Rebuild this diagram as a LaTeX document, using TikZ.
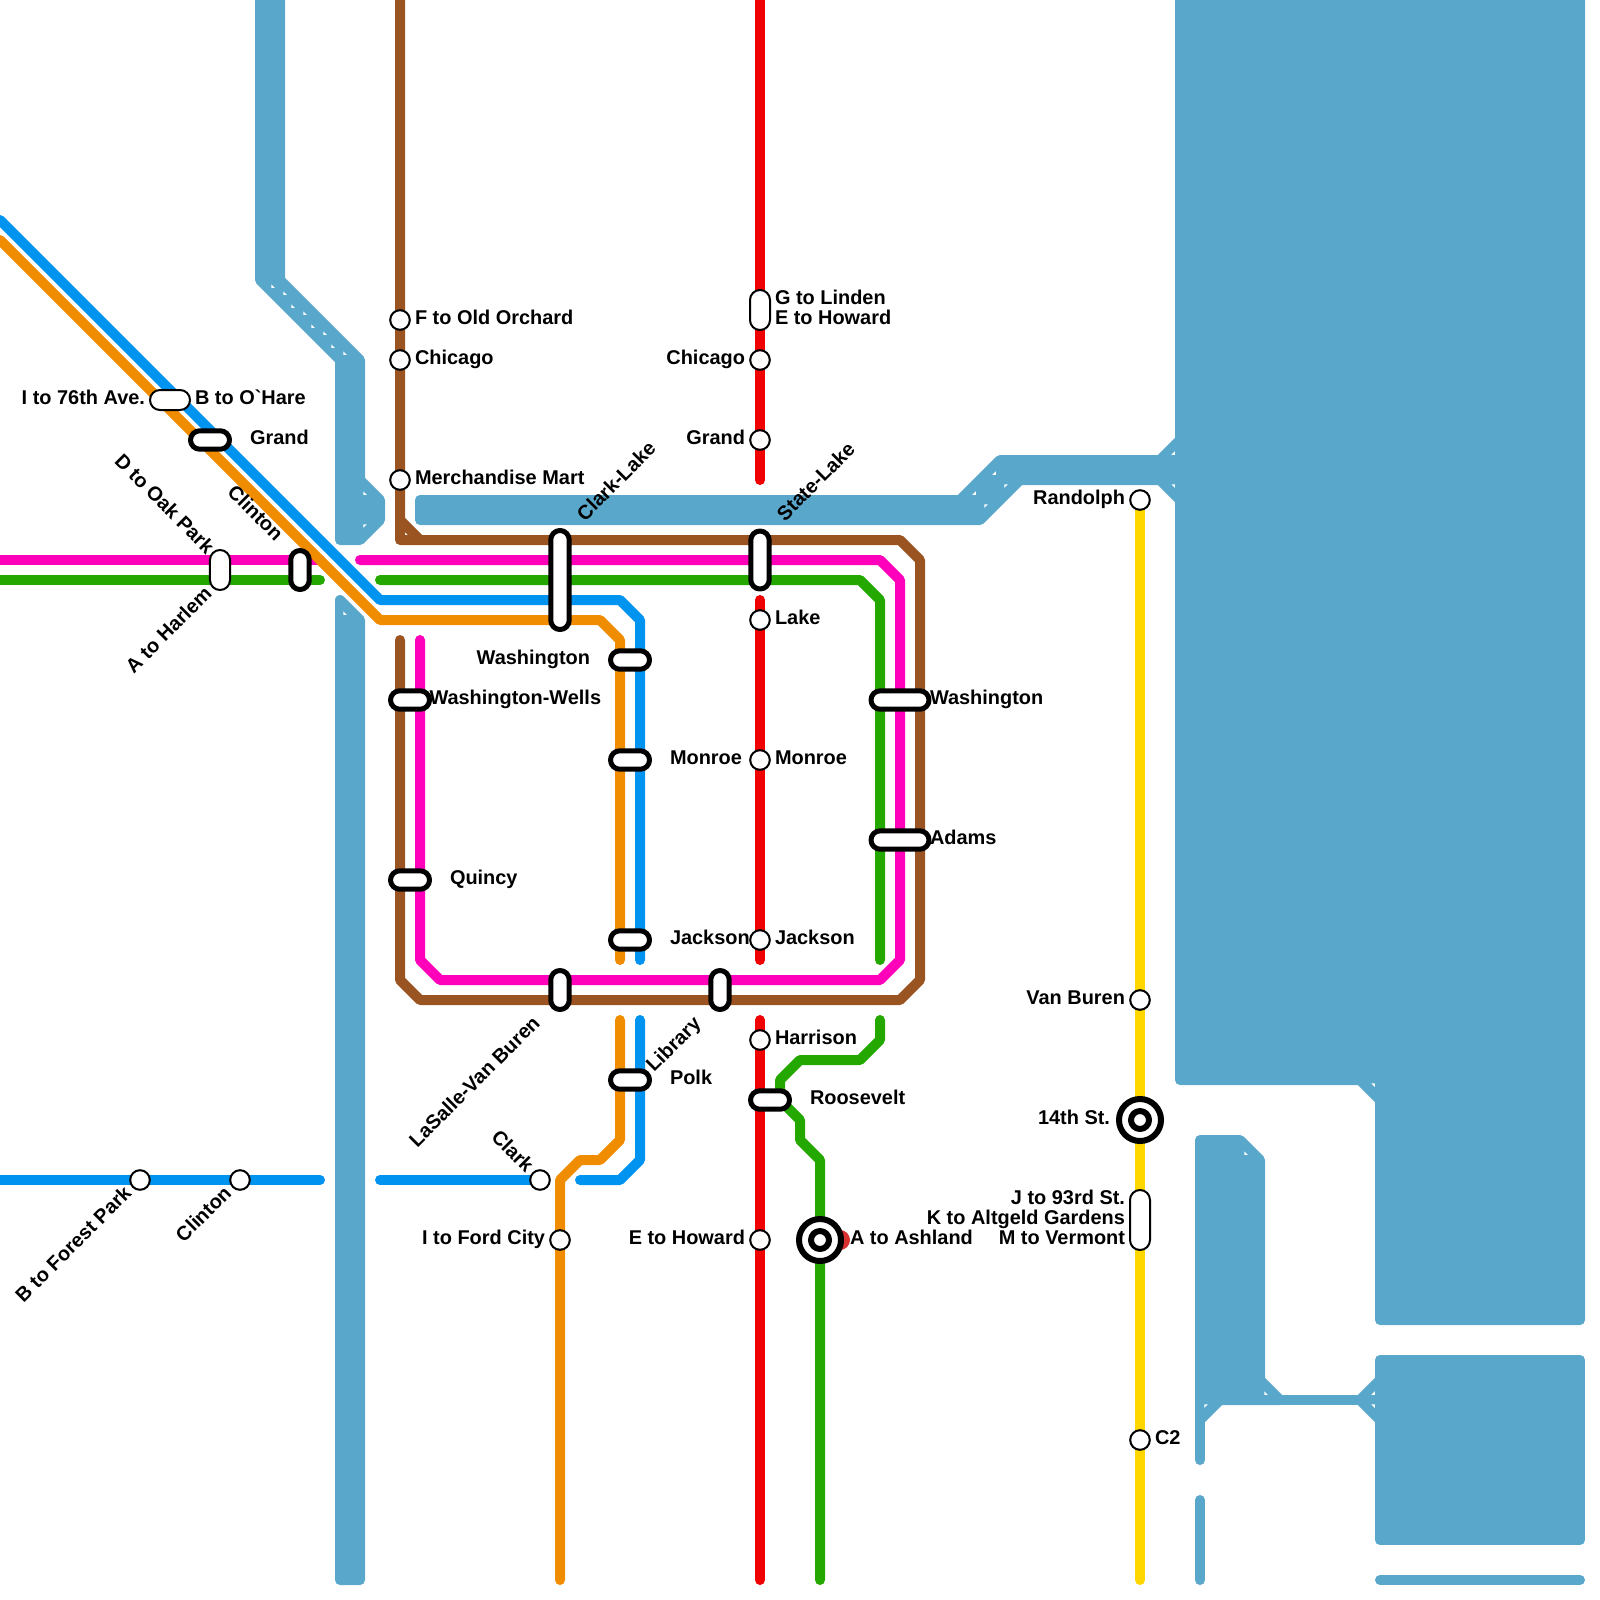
\documentclass[tikz,border=0pt]{standalone}
\usepackage{fontspec}
\usetikzlibrary{shapes.misc,backgrounds}
\newfontfamily\stnfont{Liberation Sans}
\definecolor{river}{RGB}{90,167,204}
\definecolor{brownline}{RGB}{153,84,33}
\definecolor{pinkline}{RGB}{255,0,187}
\definecolor{greenline}{RGB}{36,168,0}
\definecolor{blueline}{RGB}{0,147,240}
\definecolor{orangeline}{RGB}{240,140,0}
\definecolor{redline}{RGB}{240,0,0}
\definecolor{yellowline}{RGB}{255,215,0}
\definecolor{reddot}{RGB}{214,48,49}
\tikzstyle{every path}=[line width=.25cm, line cap=round, line join=round]
\tikzstyle{water}=[draw=river, fill=river]
\tikzstyle{stopdot}=[circle, draw=black, fill=white, line width=.05cm, minimum size=.49cm, inner sep=0pt, outer sep=0pt]
\tikzstyle{thinbar}=[rounded rectangle, draw=black, fill=white, line width=.05cm, minimum height=.5cm, minimum width=1cm, inner sep=0pt, outer sep=0pt]
\tikzstyle{thickbar}=[rounded rectangle, draw=black, fill=white, line width=.125cm, minimum height=.46cm, minimum width=.975cm, inner sep=0pt, outer sep=0pt]
\tikzstyle{bullout}=[circle, draw=black, fill=white, line width=.15cm, minimum size=1.05cm, inner sep=0pt, outer sep=0pt]
\tikzstyle{bullin}=[circle, draw=black, fill=white, line width=.15cm, minimum size=.45cm, inner sep=0pt, outer sep=0pt]
\tikzstyle{stnlabel}=[font=\stnfont\bfseries\fontsize{14.17pt}{14.17pt}\selectfont, inner sep=0pt, outer sep=0pt, text=black]
\begin{document}
\begin{tikzpicture}[x=.025cm, y=-.025cm]
    \useasboundingbox (0,0) rectangle (1600,1600);

    % free ends of the lines
    \coordinate (browntop) at (400,0);
    \coordinate (brownend) at (400,640);
    \coordinate (pinkwest) at (0,560);
    \coordinate (pinkcut) at (320,560);
    \coordinate (pinkstart) at (360,560);
    \coordinate (pinkend) at (420,640);
    \coordinate (greenwest) at (0,580);
    \coordinate (greencut) at (320,580);
    \coordinate (greenstart) at (380,580);
    \coordinate (greenend) at (880,960);
    \coordinate (greensouth) at (880,1020);
    \coordinate (greenbottom) at (820,1580);
    \coordinate (bluewest) at (0,220);
    \coordinate (blueend) at (640,960);
    \coordinate (bluesouth) at (640,1020);
    \coordinate (blueloop) at (580,1180);
    \coordinate (bluefar) at (0,1180);
    \coordinate (bluecut) at (320,1180);
    \coordinate (bluenext) at (380,1180);
    \coordinate (orangewest) at (0,240);
    \coordinate (orangeend) at (620,960);
    \coordinate (orangesouth) at (620,1020);
    \coordinate (orangebottom) at (560,1580);
    \coordinate (redtop) at (760,0);
    \coordinate (redcut) at (760,480);
    \coordinate (rednext) at (760,600);
    \coordinate (redend) at (760,960);
    \coordinate (redsouth) at (760,1020);
    \coordinate (redbottom) at (760,1580);
    \coordinate (yellowbottom) at (1140,1580);

    % stops
    \node[stopdot] (orchardstop) at (400,320) {};
    \node[stopdot] (chicagowest) at (400,360) {};
    \node[stopdot] (martstop) at (400,480) {};
    \node[stopdot] (chicagoeast) at (760,360) {};
    \node[stopdot] (grandeast) at (760,440) {};
    \node[stopdot] (lakestop) at (760,620) {};
    \node[stopdot] (monroeeast) at (760,760) {};
    \node[stopdot] (jacksoneast) at (760,940) {};
    \node[stopdot] (harrisonstop) at (760,1040) {};
    \node[stopdot] (howardstop) at (760,1240) {};
    \node[stopdot] (fordstop) at (560,1240) {};
    \node[stopdot] (clarkstop) at (540,1180) {};
    \node[stopdot] (foreststop) at (140,1180) {};
    \node[stopdot] (clintonsouth) at (240,1180) {};
    \node[stopdot] (randolphstop) at (1140,500) {};
    \node[stopdot] (vanburenstop) at (1140,1000) {};
    \node[stopdot] (ctwostop) at (1140,1440) {};

    \node[thinbar] (ohare) at (170,400) {};
    \node[thinbar, rotate=90] (oakpark) at (220,570) {};
    \node[thinbar, rotate=90] (linden) at (760,310) {};
    \node[thinbar, rotate=90, minimum width=1.5cm] (ninetythird) at (1140,1220) {};

    \node[thickbar] (grandwest) at (210,440) {};
    \node[thickbar, rotate=90] (clintonnorth) at (300,570) {};
    \node[thickbar, rotate=90, minimum width=2.475cm] (clarklake) at (560,580) {};
    \node[thickbar, rotate=90, minimum width=1.45cm] (statelake) at (760,560) {};
    \node[thickbar] (washingtonmid) at (630,660) {};
    \node[thickbar] (monroewest) at (630,760) {};
    \node[thickbar] (jacksonwest) at (630,940) {};
    \node[thickbar] (polkstop) at (630,1080) {};
    \node[thickbar] (wells) at (410,700) {};
    \node[thickbar] (quincystop) at (410,880) {};
    \node[thickbar, rotate=90] (lasalle) at (560,990) {};
    \node[thickbar, rotate=90] (library) at (720,990) {};
    \node[thickbar, minimum width=1.45cm] (washingtoneast) at (900,700) {};
    \node[thickbar, minimum width=1.45cm] (adamsstop) at (900,840) {};
    \node[thickbar] (roosevelt) at (770,1100) {};

    \node[bullout] (fourteenth) at (1140,1120) {};
    \node[bullin] (fourteenthin) at (1140,1120) {};
    \node[bullout] (ashland) at (820,1240) {};
    \node[bullin] (ashlandin) at (820,1240) {};

    \begin{scope}[on background layer]
        % water
        \path[water] (260,-20) -- (280,-20) -- (280,280) -- (360,360) -- (360,480) -- (380,500)
            -- (380,520) -- (360,540) -- (340,540) -- (340,360) -- (260,280) -- cycle;
        \path[water] (340,600) -- (360,620) -- (360,1580) -- (340,1580) -- cycle;
        \path[water] (420,500) -- (960,500) -- (1000,460) -- (1160,460) -- (1180,440) -- (1180,500)
            -- (1160,480) -- (1020,480) -- (980,520) -- (420,520) -- cycle;
        \path[water] (1180,-20) -- (1580,-20) -- (1580,1320) -- (1380,1320) -- (1380,1100)
            -- (1360,1080) -- (1180,1080) -- cycle;
        \path[water] (1380,1360) -- (1580,1360) -- (1580,1540) -- (1380,1540) -- cycle;
        \draw[river] (1380,1580) -- (1580,1580);
        \path[water] (1200,1140) -- (1240,1140) -- (1260,1160) -- (1260,1380) -- (1280,1400)
            -- (1220,1400) -- (1200,1420) -- cycle;
        \draw[river] (1200,1420) -- (1200,1460);
        \draw[river] (1200,1500) -- (1200,1580);
        \draw[river] (1280,1400) -- (1360,1400);
        \path[water] (1360,1400) -- (1380,1380) -- (1380,1420) -- cycle;
        \foreach \sx/\sy/\hx/\hy in {273/286/1/-1, 285/293/1/-1, 293/306/1/-1, 305/313/1/-1,
                313/326/1/-1, 325/333/1/-1, 333/346/1/-1, 345/353/1/-1,
                365/493/1/-1, 365/526/1/1, 345/613/1/-1,
                994/473/-1/-1, 974/493/-1/-1, 1006/486/1/1, 986/506/1/1, 1173/453/-1/-1, 1173/486/-1/1,
                1373/1085/-1/1, 1246/1153/1/-1, 1266/1393/1/-1, 1206/1406/1/1, 1373/1393/-1/-1, 1373/1406/-1/1}
            \fill[white] ({\sx-1.75*\hx},{\sy-1.75*\hy}) -- ++({3.5*\hx},0) -- ++({-3.5*\hx},{3.5*\hy}) -- cycle;

        % lines
        \draw[pinkline] (pinkwest) -- (pinkcut);
        \draw[pinkline] (pinkstart) -- (880,560) -- (900,580) -- (900,960) -- (880,980)
            -- (440,980) -- (420,960) -- (pinkend);
        \draw[greenline] (greenwest) -- (greencut);
        \draw[greenline] (greenstart) -- (860,580) -- (880,600) -- (greenend);
        \draw[greenline] (greensouth) -- (880,1040) -- (860,1060) -- (800,1060) -- (780,1080)
            -- (780,1100) -- (800,1120) -- (800,1140) -- (820,1160) -- (ashland.center) -- (greenbottom);
        \draw[blueline] (bluewest) -- (380,600) -- (620,600) -- (640,620) -- (blueend);
        \draw[blueline] (bluesouth) -- (640,1160) -- (620,1180) -- (blueloop);
        \draw[blueline] (bluefar) -- (foreststop.center) -- (clintonsouth.center) -- (bluecut);
        \draw[blueline] (bluenext) -- (clarkstop.center);
        \draw[orangeline] (orangewest) -- (380,620) -- (600,620) -- (620,640) -- (orangeend);
        \draw[orangeline] (orangesouth) -- (620,1140) -- (600,1160) -- (580,1160) -- (560,1180)
            -- (fordstop.center) -- (orangebottom);
        \draw[brownline] (browntop) -- (orchardstop.center) -- (chicagowest.center) -- (martstop.center)
            -- (400,540) -- (900,540) -- (920,560) -- (920,980) -- (900,1000) -- (420,1000)
            -- (400,980) -- (brownend);
        \draw[brownline, line cap=butt] (400,520) -- (420,540);
        \draw[redline] (redtop) -- (linden.center) -- (chicagoeast.center) -- (grandeast.center) -- (redcut);
        \draw[redline] (rednext) -- (lakestop.center) -- (monroeeast.center) -- (jacksoneast.center) -- (redend);
        \draw[redline] (redsouth) -- (harrisonstop.center) -- (howardstop.center) -- (redbottom);
        \draw[yellowline] (randolphstop.center) -- (vanburenstop.center) -- (fourteenth.center)
            -- (ninetythird.center) -- (ctwostop.center) -- (yellowbottom);
        \fill[reddot] (840,1240) circle (10);
    \end{scope}

    % labels
    \node[stnlabel, anchor=base west] (orchardtext) at (415,324) {F to Old Orchard};
    \node[stnlabel, anchor=base west] (chicagowesttext) at (415,364) {Chicago};
    \node[stnlabel, anchor=base west] (marttext) at (415,484) {Merchandise Mart};
    \node[stnlabel, anchor=base east] (chicagoeasttext) at (745,364) {Chicago};
    \node[stnlabel, anchor=base east] (grandeasttext) at (745,444) {Grand};
    \node[stnlabel, anchor=west, align=left] (lindentext) at (775,307) {G to Linden\\E to Howard};
    \node[stnlabel, anchor=base east] (seventysixth) at (145,404) {I to 76th Ave.};
    \node[stnlabel, anchor=base west] (oharetext) at (195,404) {B to O`Hare};
    \node[stnlabel, anchor=base west] (grandwesttext) at (250,444) {Grand};
    \node[stnlabel, anchor=base east, rotate=-45] (oaktext) at (206,555) {D to Oak Park};
    \node[stnlabel, anchor=base east, rotate=-45] (clintonnorthtext) at (275,542) {Clinton};
    \node[stnlabel, anchor=base east, rotate=45] (harlemtext) at (213,595) {A to Harlem};
    \node[stnlabel, anchor=base west, rotate=45] (clarklaketext) at (585,522) {Clark-Lake};
    \node[stnlabel, anchor=base west, rotate=45] (statelaketext) at (785,522) {State-Lake};
    \node[stnlabel, anchor=base west] (laketext) at (775,624) {Lake};
    \node[stnlabel, anchor=base east] (washingtonmidtext) at (590,664) {Washington};
    \node[stnlabel, anchor=base west] (wellstext) at (429.5,704) {Washington-Wells};
    \node[stnlabel, anchor=base west] (monroewesttext) at (670,764) {Monroe};
    \node[stnlabel, anchor=base west] (monroeeasttext) at (775,764) {Monroe};
    \node[stnlabel, anchor=base west] (quincytext) at (450,884) {Quincy};
    \node[stnlabel, anchor=base west] (jacksonwesttext) at (670,944) {Jackson};
    \node[stnlabel, anchor=base west] (jacksoneasttext) at (775,944) {Jackson};
    \node[stnlabel, anchor=base west] (washingtoneasttext) at (930,704) {Washington};
    \node[stnlabel, anchor=base west] (adamstext) at (930,844) {Adams};
    \node[stnlabel, anchor=base east, rotate=45] (lasalletext) at (541,1024.5) {LaSalle-Van Buren};
    \node[stnlabel, anchor=base east, rotate=45] (librarytext) at (702,1025) {Library};
    \node[stnlabel, anchor=base west] (harrisontext) at (775,1044) {Harrison};
    \node[stnlabel, anchor=base west] (polktext) at (670,1084) {Polk};
    \node[stnlabel, anchor=base west] (roosevelttext) at (810,1104) {Roosevelt};
    \node[stnlabel, anchor=base east, rotate=-45] (clarktext) at (525.5,1173.5) {Clark};
    \node[stnlabel, anchor=base east] (fordtext) at (545,1244) {I to Ford City};
    \node[stnlabel, anchor=base east] (howardtext) at (745,1244) {E to Howard};
    \node[stnlabel, anchor=base west] (ashlandtext) at (850,1244) {A to Ashland};
    \node[stnlabel, anchor=base east, rotate=45] (foresttext) at (132.5,1194.5) {B to Forest Park};
    \node[stnlabel, anchor=base east, rotate=45] (clintonsouthtext) at (232.5,1194.5) {Clinton};
    \node[stnlabel, anchor=base east] (randolphtext) at (1125,504) {Randolph};
    \node[stnlabel, anchor=base east] (vanburentext) at (1125,1004) {Van Buren};
    \node[stnlabel, anchor=base east] (fourteenthtext) at (1110,1124) {14th St.};
    \node[stnlabel, anchor=east, align=right] (ninetythirdtext) at (1125,1217.5) {J to 93rd St.\\K to Altgeld Gardens\\M to Vermont};
    \node[stnlabel, anchor=base west] (ctwotext) at (1155,1444) {C2};
\end{tikzpicture}
\end{document}
